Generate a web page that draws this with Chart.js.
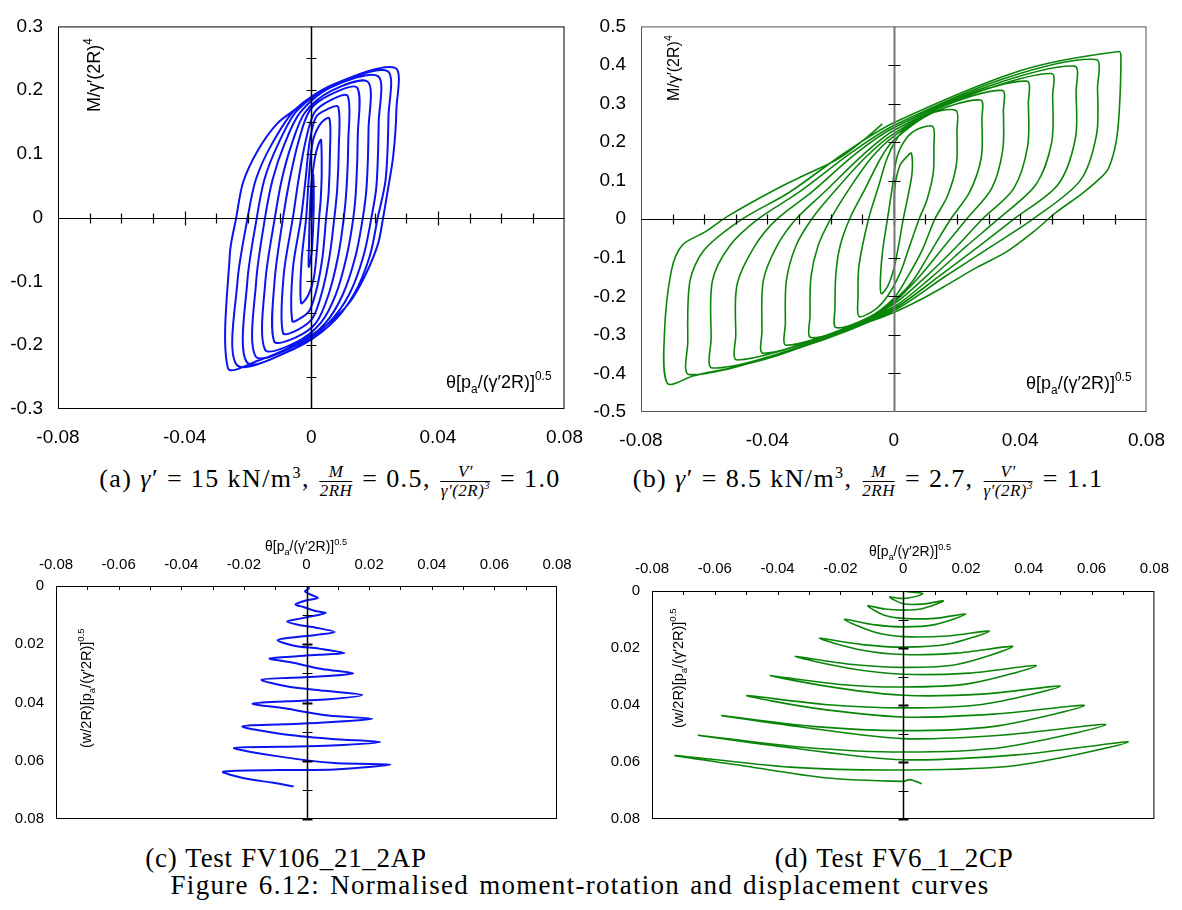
<!DOCTYPE html>
<html>
<head>
<meta charset="utf-8">
<script src="https://cdn.jsdelivr.net/npm/chart.js@4.4.1/dist/chart.umd.min.js"></script>
<style>
  body { margin: 0; background: #fff; }
  #page { position: relative; width: 1182px; height: 910px; overflow: hidden; background: #fff; }
  canvas { position: absolute; }
  .cap { position: absolute; transform: translateX(-50%); font-family: "Liberation Serif", serif; font-size: 27px; letter-spacing: 1.3px; word-spacing: 2px; white-space: nowrap; color: #000; line-height: 1; }
  .cap.sub { font-size: 26px; letter-spacing: 1.4px; word-spacing: 0; }
  .cap.test { letter-spacing: 0.7px; word-spacing: 1px; }
  .frac { display: inline-flex; flex-direction: column; align-items: center; vertical-align: middle; font-size: 17px; font-style: italic; line-height: 1.05; margin: 0 2px; letter-spacing: 0.5px; }
  .frac > span:first-child { align-self: stretch; text-align: center; border-bottom: 1px solid #000; padding: 0 2px; }
  sup { font-size: 0.62em; line-height: 0; }
</style>
</head>
<body>
<div id="page">
  <canvas id="chartA" width="600" height="450" style="left:0;top:0"></canvas>
  <canvas id="chartB" width="592" height="450" style="left:590px;top:0"></canvas>
  <canvas id="chartC" width="600" height="320" style="left:0;top:520px"></canvas>
  <canvas id="chartD" width="592" height="320" style="left:590px;top:520px"></canvas>

  <div class="cap sub" style="left:330px;top:463px">(a) <i>γ</i>′ = 15 kN/m<sup>3</sup>, <span class="frac"><span>M</span><span>2RH</span></span> = 0.5, <span class="frac"><span>V′</span><span>γ′(2R)<sup>3</sup></span></span> = 1.0</div>
  <div class="cap sub" style="left:868px;top:463px">(b) <i>γ</i>′ = 8.5 kN/m<sup>3</sup>, <span class="frac"><span>M</span><span>2RH</span></span> = 2.7, <span class="frac"><span>V′</span><span>γ′(2R)<sup>3</sup></span></span> = 1.1</div>
  <div class="cap test" style="left:286px;top:845px">(c) Test FV106_21_2AP</div>
  <div class="cap test" style="left:894px;top:845px">(d) Test FV6_1_2CP</div>
  <div class="cap" style="left:580px;top:872px">Figure 6.12: Normalised moment-rotation and displacement curves</div>
</div>

<script>
// (a) gamma' = 15 kN/m3 : normalised rotation vs normalised moment, one continuous path
const cycleA = [
  [0, 0], [0.0003, 0.03], [0.0007, 0.069],
  [0.0008, 0.03], [0.0007, 0], [0.0004, -0.035], [0, -0.06], [-0.0008, -0.077],
  [-0.0007, -0.04], [-0.0005, 0], [0, 0.05], [0.0012, 0.095], [0.0024, 0.117], [0.0031, 0.122],
  [0.0033, 0.07], [0.003, 0.03], [0.0025, 0], [0.0018, -0.05], [0.0008, -0.095], [-0.001, -0.122], [-0.0032, -0.134],
  [-0.0031, -0.07], [-0.0016, 0], [-0.0008, 0.06], [0.0005, 0.12], [0.003, 0.148], [0.0057, 0.156],
  [0.0059, 0.1], [0.0055, 0.04], [0.0047, 0], [0.0036, -0.06], [0.0018, -0.11], [-0.0005, -0.145], [-0.0035, -0.158], [-0.006, -0.162],
  [-0.0058, -0.08], [-0.0032, 0], [-0.0018, 0.06], [-0.0005, 0.12], [0.0015, 0.158], [0.005, 0.17], [0.0085, 0.174],
  [0.0087, 0.11], [0.0082, 0.045], [0.0073, 0], [0.0058, -0.06], [0.0035, -0.115], [0.0005, -0.157], [-0.004, -0.175], [-0.0089, -0.181],
  [-0.0087, -0.09], [-0.0058, 0], [-0.004, 0.06], [-0.0018, 0.12], [0.001, 0.165], [0.006, 0.184], [0.0115, 0.191],
  [0.0117, 0.12], [0.0112, 0.05], [0.0103, 0], [0.0085, -0.06], [0.0055, -0.12], [0.0015, -0.165], [-0.005, -0.188], [-0.0117, -0.194],
  [-0.0116, -0.1], [-0.0089, 0], [-0.0068, 0.06], [-0.004, 0.12], [-0.0005, 0.168], [0.006, 0.193], [0.0145, 0.204],
  [0.0147, 0.13], [0.0142, 0.05], [0.0133, 0], [0.0112, -0.06], [0.0078, -0.12], [0.003, -0.165], [-0.005, -0.196], [-0.0146, -0.207],
  [-0.0145, -0.1], [-0.0115, 0], [-0.0093, 0.06], [-0.0062, 0.115], [-0.002, 0.165], [0.006, 0.198], [0.0179, 0.213],
  [0.0181, 0.14], [0.0175, 0.05], [0.0163, 0], [0.014, -0.06], [0.01, -0.12], [0.0045, -0.165], [-0.004, -0.198], [-0.0175, -0.218],
  [-0.0174, -0.1], [-0.0146, 0], [-0.0122, 0.06], [-0.0085, 0.115], [-0.0035, 0.165], [0.006, 0.204], [0.0211, 0.222],
  [0.0213, 0.15], [0.0206, 0.05], [0.019, 0], [0.0165, -0.06], [0.012, -0.12], [0.0055, -0.165], [-0.005, -0.204], [-0.0203, -0.227],
  [-0.0202, -0.1], [-0.0172, 0], [-0.0148, 0.06], [-0.0105, 0.115], [-0.0045, 0.168], [0.0065, 0.207], [0.0241, 0.23],
  [0.0244, 0.16], [0.0235, 0.06], [0.021, 0], [0.0185, -0.06], [0.0135, -0.12], [0.006, -0.168], [-0.0055, -0.206], [-0.0235, -0.231],
  [-0.0233, -0.1], [-0.0201, 0], [-0.0175, 0.06], [-0.0125, 0.115], [-0.005, 0.17], [0.007, 0.209], [0.0265, 0.235],
  [0.0269, 0.17], [0.0259, 0.097], [0.0241, 0.041], [0.0227, 0], [0.0211, -0.041], [0.0169, -0.092], [0.0121, -0.133],
  [0.0061, -0.163], [0, -0.184], [-0.0071, -0.204], [-0.0167, -0.224], [-0.0263, -0.236],
  [-0.0257, -0.056], [-0.0237, 0], [-0.0215, 0.056], [-0.0167, 0.107], [-0.0107, 0.148], [-0.0047, 0.171]
];

// (b) gamma' = 8.5 kN/m3
const cycleB = [
  [0.0002, -0.015], [0.0003, 0.08], [0.002, 0.14], [0.0045, 0.165], [0.0056, 0.171],
  [0.0058, 0.12], [0.0045, 0.06], [0.003, 0], [0.0015, -0.07], [0, -0.13], [-0.002, -0.175], [-0.004, -0.193],
  [-0.0042, -0.15], [-0.0035, -0.08], [-0.002, 0], [-0.0005, 0.08], [0.001, 0.16], [0.004, 0.21], [0.008, 0.235], [0.0124, 0.24],
  [0.0127, 0.19], [0.0125, 0.12], [0.0105, 0.05], [0.008, 0], [0.005, -0.07], [0.002, -0.14], [-0.002, -0.2], [-0.006, -0.235], [-0.011, -0.252],
  [-0.0113, -0.2], [-0.011, -0.12], [-0.008, 0], [-0.005, 0.08], [-0.002, 0.16], [0.002, 0.22], [0.01, 0.27], [0.0197, 0.282],
  [0.02, 0.23], [0.0198, 0.14], [0.017, 0.06], [0.013, 0], [0.009, -0.08], [0.004, -0.155], [0, -0.205], [-0.008, -0.255], [-0.0183, -0.281],
  [-0.0186, -0.23], [-0.0183, -0.14], [-0.017, -0.07], [-0.014, 0], [-0.009, 0.08], [-0.004, 0.16], [0, 0.205], [0.012, 0.275], [0.0275, 0.309],
  [0.0279, 0.26], [0.0277, 0.16], [0.024, 0.07], [0.018, 0], [0.012, -0.08], [0.006, -0.16], [0, -0.21], [-0.01, -0.265], [-0.0262, -0.307],
  [-0.0265, -0.25], [-0.0262, -0.15], [-0.024, -0.07], [-0.02, 0], [-0.014, 0.08], [-0.007, 0.16], [0, 0.215], [0.015, 0.29], [0.0343, 0.334],
  [0.0347, 0.28], [0.0345, 0.18], [0.031, 0.08], [0.023, 0], [0.016, -0.07], [0.008, -0.15], [0, -0.215], [-0.012, -0.272], [-0.034, -0.327],
  [-0.0343, -0.27], [-0.034, -0.16], [-0.031, -0.07], [-0.026, 0], [-0.019, 0.07], [-0.009, 0.16], [0, 0.222], [0.02, 0.31], [0.0421, 0.358],
  [0.0426, 0.3], [0.0424, 0.19], [0.038, 0.08], [0.028, 0], [0.02, -0.07], [0.01, -0.15], [0, -0.22], [-0.015, -0.283], [-0.0413, -0.348],
  [-0.0417, -0.29], [-0.0413, -0.16], [-0.037, -0.07], [-0.031, 0], [-0.022, 0.07], [-0.01, 0.165], [0, 0.23], [0.025, 0.325], [0.0499, 0.378],
  [0.0503, 0.32], [0.05, 0.2], [0.045, 0.09], [0.033, 0], [0.023, -0.07], [0.012, -0.15], [0, -0.227], [-0.02, -0.298], [-0.0496, -0.365],
  [-0.05, -0.3], [-0.0496, -0.17], [-0.044, -0.07], [-0.037, 0], [-0.026, 0.07], [-0.012, 0.17], [0, 0.237], [0.03, 0.345], [0.0572, 0.397],
  [0.0577, 0.33], [0.0575, 0.21], [0.052, 0.09], [0.038, 0], [0.027, -0.07], [0.014, -0.15], [0, -0.232], [-0.025, -0.318], [-0.0574, -0.386],
  [-0.0578, -0.31], [-0.0574, -0.16], [-0.052, -0.07], [-0.043, 0], [-0.03, 0.07], [-0.013, 0.175], [0, 0.243], [0.035, 0.365], [0.064, 0.414],
  [0.0645, 0.34], [0.0642, 0.22], [0.059, 0.1], [0.044, 0], [0.031, -0.07], [0.016, -0.15], [0, -0.237], [-0.03, -0.334], [-0.0647, -0.403],
  [-0.0652, -0.32], [-0.0645, -0.16], [-0.06, -0.08], [-0.048, 0], [-0.033, 0.07], [-0.015, 0.175], [0, 0.25], [0.04, 0.385], [0.0713, 0.435],
  [0.0719, 0.418], [0.0714, 0.284], [0.0704, 0.201], [0.0681, 0.134], [0.0657, 0.109], [0.0597, 0.067], [0.0513, 0.017], [0.0442, -0.033],
  [0.0358, -0.084], [0.0263, -0.125], [0.0167, -0.171], [0.0084, -0.209], [0, -0.242], [-0.0084, -0.268], [-0.0179, -0.293],
  [-0.0275, -0.326], [-0.0394, -0.36], [-0.0513, -0.385], [-0.0633, -0.406], [-0.0716, -0.426],
  [-0.0726, -0.301], [-0.0704, -0.134], [-0.0669, -0.067], [-0.0597, -0.033], [-0.0525, 0.008], [-0.037, 0.079],
  [-0.0275, 0.117], [-0.0179, 0.155], [-0.0096, 0.205], [-0.0036, 0.247]
];

// (c) Test FV106_21_2AP : rotation vs normalised settlement
const settleC = [
  [0, 0], [0.0008, 0.0008], [-0.0005, 0.0018], [0.001, 0.0028], [0.0036, 0.0041],
  [0.0005, 0.0048], [-0.0035, 0.0063],
  [-0.001, 0.0072], [0.0025, 0.0085], [0.0061, 0.0093],
  [0.002, 0.0103], [-0.002, 0.0112], [-0.0062, 0.0122],
  [-0.002, 0.0135], [0.003, 0.0143], [0.009, 0.0158],
  [0.003, 0.0168], [-0.003, 0.0175], [-0.0092, 0.0186],
  [-0.004, 0.0205], [0.004, 0.0215], [0.0121, 0.023],
  [0.004, 0.0236], [-0.004, 0.0242], [-0.0118, 0.0249],
  [-0.005, 0.0262], [0.005, 0.0285], [0.0149, 0.03],
  [0.005, 0.031], [-0.005, 0.0315], [-0.0144, 0.0322],
  [-0.006, 0.0345], [0.006, 0.036], [0.0178, 0.0374],
  [0.006, 0.039], [-0.006, 0.0396], [-0.0172, 0.0404],
  [-0.007, 0.042], [0.007, 0.0445], [0.021, 0.0456],
  [0.007, 0.0468], [-0.007, 0.0475], [-0.0205, 0.0482],
  [-0.008, 0.0508], [0.008, 0.0525], [0.0236, 0.0536],
  [0.008, 0.0548], [-0.008, 0.0552], [-0.0232, 0.0556],
  [-0.009, 0.0585], [0.009, 0.0608], [0.0268, 0.0613],
  [0.009, 0.063], [-0.009, 0.0632], [-0.0266, 0.0638],
  [-0.02, 0.066], [-0.011, 0.0675], [-0.0041, 0.0688]
];

// (d) Test FV6_1_2CP
const settleD = [
  [0, 0], [0.003, 0.0004], [0.0062, 0.0009],
  [0.002, 0.0024], [-0.001, 0.0026], [-0.0043, 0.0021],
  [0, 0.0045], [0.006, 0.0046], [0.0128, 0.0035],
  [0.006, 0.0062], [0, 0.0067], [-0.006, 0.0063], [-0.0113, 0.0052],
  [-0.006, 0.0085], [0, 0.0096], [0.01, 0.0096], [0.0199, 0.0081],
  [0.01, 0.0118], [0, 0.0126], [-0.009, 0.0119], [-0.0187, 0.01],
  [-0.009, 0.0145], [0, 0.016], [0.014, 0.0158], [0.0274, 0.0141],
  [0.014, 0.0187], [0, 0.0197], [-0.013, 0.0188], [-0.0267, 0.0166],
  [-0.013, 0.0208], [0, 0.0223], [0.017, 0.0218], [0.0349, 0.0195],
  [0.017, 0.0258], [0, 0.0268], [-0.017, 0.0257], [-0.0344, 0.023],
  [-0.017, 0.0272], [0, 0.0292], [0.021, 0.0288], [0.0424, 0.0262],
  [0.021, 0.0325], [0, 0.0337], [-0.021, 0.0327], [-0.0424, 0.0297],
  [-0.021, 0.034], [0, 0.0366], [0.025, 0.0362], [0.05, 0.0334],
  [0.025, 0.0398], [0, 0.041], [-0.025, 0.0398], [-0.0498, 0.0367],
  [-0.029, 0.041], [0, 0.0442], [0.029, 0.0432], [0.0577, 0.0402],
  [0.029, 0.0475], [0, 0.049], [-0.029, 0.0475], [-0.0578, 0.0437],
  [-0.032, 0.0478], [0, 0.0518], [0.032, 0.0505], [0.0645, 0.0469],
  [0.032, 0.0548], [0, 0.0565], [-0.032, 0.0548], [-0.0652, 0.0506],
  [-0.036, 0.055], [0, 0.0592], [0.036, 0.0575], [0.0717, 0.053],
  [0.036, 0.0612], [0, 0.0628], [-0.036, 0.0618], [-0.0726, 0.0577],
  [-0.05, 0.0615], [-0.025, 0.0655], [0, 0.0668], [0.002, 0.0662], [0.004, 0.0668], [0.0059, 0.0676]
];

const labelFont = 'Liberation Sans';

// rich text pieces for the axis titles
const momentTitle = [{ t: 'M/γ′(2R)' }, { t: '4', sup: true }];
const rotationTitle = [{ t: 'θ[p' }, { t: 'a', sub: true }, { t: '/(γ′2R)]' }, { t: '0.5', sup: true }];
const settleTitle = [{ t: '(w/2R)[p' }, { t: 'a', sub: true }, { t: '/(γ′2R)]' }, { t: '0.5', sup: true }];

function steps(from, to, step) {
  const out = [];
  for (let v = from; v <= to + step / 2; v += step) {
    const r = Math.round(v / step) * step;
    if (Math.abs(r) > 1e-9) out.push(r);
  }
  return out;
}

function drawRich(ctx, parts, x, y, size, align) {
  let total = 0;
  const sized = parts.map(p => {
    const s = (p.sup || p.sub) ? size * 0.66 : size;
    ctx.font = `${s}px "${labelFont}"`;
    const w = ctx.measureText(p.t).width;
    total += w;
    return { p, s, w };
  });
  let cx = align === 'center' ? x - total / 2 : x;
  sized.forEach(({ p, s, w }) => {
    ctx.font = `${s}px "${labelFont}"`;
    const dy = p.sup ? -size * 0.45 : p.sub ? size * 0.25 : 0;
    ctx.fillText(p.t, cx, y + dy);
    cx += w;
  });
}

const decorPlugin = {
  id: 'decor',
  afterDatasetsDraw(chart, args, o) {
    const { ctx, chartArea: a, scales: { x, y } } = chart;
    const seg = (x1, y1, x2, y2) => { ctx.beginPath(); ctx.moveTo(x1, y1); ctx.lineTo(x2, y2); ctx.stroke(); };
    ctx.save();

    // frame around the plot
    ctx.strokeStyle = o.frameColor;
    ctx.lineWidth = 1;
    ctx.strokeRect(a.left + 0.5, a.top + 0.5, a.width - 1, a.height - 1);

    // ticks on the top border (c, d)
    if (o.topTicks) {
      ctx.strokeStyle = '#000';
      o.topTicks.forEach(v => {
        const px = Math.round(x.getPixelForValue(v)) + 0.5;
        seg(px, a.top, px, a.top + 4);
      });
    }

    // horizontal zero axis with ticks (a, b)
    if (o.hTicks) {
      const y0 = Math.round(y.getPixelForValue(0)) + 0.5;
      ctx.strokeStyle = '#000';
      ctx.lineWidth = 1.2;
      seg(a.left, y0, a.right, y0);
      o.hTicks.forEach(v => {
        const px = Math.round(x.getPixelForValue(v)) + 0.5;
        const len = o.hMajor && o.hMajor.some(m => Math.abs(m - v) < 1e-9) ? 7 : 5;
        seg(px, y0 - len, px, y0 + len);
      });
    }

    // vertical zero axis with ticks
    const x0 = Math.round(x.getPixelForValue(0)) + 0.5;
    ctx.strokeStyle = o.vColor;
    ctx.lineWidth = o.vWidth;
    seg(x0, a.top, x0, a.bottom);
    ctx.strokeStyle = '#000';
    o.vTicks.forEach(v => {
      const py = Math.round(y.getPixelForValue(v)) + 0.5;
      const major = o.vMajor && o.vMajor.some(m => Math.abs(m - v) < 1e-9);
      ctx.lineWidth = major ? 2 : 1;
      seg(x0 - o.vLen, py, x0 + o.vLen, py);
    });

    // axis titles
    ctx.fillStyle = '#000';
    ctx.textBaseline = 'alphabetic';
    o.texts.forEach(t => {
      ctx.save();
      ctx.translate(t.x, t.y);
      if (t.rotate) ctx.rotate(-Math.PI / 2);
      drawRich(ctx, t.parts, 0, 0, t.size, t.align);
      ctx.restore();
    });
    ctx.restore();
  }
};

const fmt = digits => v => (Math.abs(v) < 1e-9 ? '0' : v.toFixed(digits));

function axis(opts) {
  return {
    type: 'linear',
    position: opts.position,
    reverse: !!opts.reverse,
    min: opts.min,
    max: opts.max,
    grid: { display: false, drawTicks: false },
    border: { display: false },
    ticks: {
      stepSize: opts.step,
      padding: opts.padding,
      color: '#000',
      autoSkip: false,
      maxRotation: 0,
      font: { family: labelFont, size: opts.fontSize },
      callback: fmt(opts.digits)
    },
    afterFit: s => {
      if (opts.width) s.width = opts.width;
      if (opts.height) s.height = opts.height;
    }
  };
}

function buildChart(id, points, color, lineWidth, scales, padding, decor) {
  return new Chart(document.getElementById(id), {
    type: 'scatter',
    data: {
      datasets: [{
        data: points.map(([px, py]) => ({ x: px, y: py })),
        showLine: true,
        borderColor: color,
        borderWidth: lineWidth,
        pointRadius: 0,
        tension: 0.3,
        fill: false
      }]
    },
    options: {
      responsive: false,
      animation: false,
      events: [],
      layout: { padding },
      plugins: { legend: { display: false }, tooltip: { enabled: false }, decor },
      scales
    },
    plugins: [decorPlugin]
  });
}

// (a)
buildChart('chartA', cycleA, '#0a14f0', 2,
  {
    x: axis({ position: 'bottom', min: -0.08, max: 0.08, step: 0.04, padding: 17, fontSize: 19, digits: 2, height: 41 }),
    y: axis({ position: 'left', min: -0.3, max: 0.3, step: 0.1, padding: 15, fontSize: 19, digits: 1, width: 58 })
  },
  { left: 0, right: 31, top: 17, bottom: 0 },
  {
    frameColor: '#000', vColor: '#000', vWidth: 1.5, vLen: 5,
    vTicks: steps(-0.25, 0.25, 0.05),
    hTicks: steps(-0.07, 0.07, 0.01), hMajor: [-0.04, 0.04],
    texts: [
      { x: 100, y: 112, rotate: true, parts: momentTitle, size: 18 },
      { x: 446, y: 388, parts: rotationTitle, size: 18 }
    ]
  });

// (b)
buildChart('chartB', cycleB, '#0a850a', 1.6,
  {
    x: axis({ position: 'bottom', min: -0.08, max: 0.08, step: 0.04, padding: 17, fontSize: 19, digits: 2, height: 38 }),
    y: axis({ position: 'left', min: -0.5, max: 0.5, step: 0.1, padding: 15, fontSize: 19, digits: 1, width: 51 })
  },
  { left: 0, right: 29, top: 14, bottom: 0 },
  {
    frameColor: '#555', vColor: '#777', vWidth: 2, vLen: 6,
    vTicks: steps(-0.4, 0.4, 0.1),
    hTicks: steps(-0.07, 0.07, 0.01),
    texts: [
      { x: 89, y: 101, rotate: true, parts: momentTitle, size: 16 },
      { x: 436, y: 389, parts: rotationTitle, size: 18 }
    ]
  });

// (c)
buildChart('chartC', settleC, '#0a14f0', 2,
  {
    x: axis({ position: 'top', min: -0.08, max: 0.08, step: 0.02, padding: 12, fontSize: 15, digits: 2, height: 66 }),
    y: axis({ position: 'left', reverse: true, min: 0, max: 0.08, step: 0.02, padding: 12, fontSize: 15, digits: 2, width: 56 })
  },
  { left: 0, right: 43, top: 0, bottom: 15 },
  {
    frameColor: '#000', vColor: '#000', vWidth: 1.5, vLen: 5,
    vTicks: steps(0.01, 0.08, 0.01), vMajor: [0.02, 0.04, 0.06, 0.08],
    topTicks: steps(-0.07, 0.07, 0.01),
    texts: [
      { x: 306, y: 31, parts: rotationTitle, size: 14, align: 'center' },
      { x: 91, y: 228, rotate: true, parts: settleTitle, size: 14.5 }
    ]
  });

// (d)
buildChart('chartD', settleD, '#0a850a', 1.6,
  {
    x: axis({ position: 'top', min: -0.08, max: 0.08, step: 0.02, padding: 13, fontSize: 15, digits: 2, height: 71 }),
    y: axis({ position: 'left', reverse: true, min: 0, max: 0.08, step: 0.02, padding: 12, fontSize: 15, digits: 2, width: 62 })
  },
  { left: 0, right: 22, top: 0, bottom: 20 },
  {
    frameColor: '#000', vColor: '#000', vWidth: 1.5, vLen: 5,
    vTicks: steps(0.01, 0.08, 0.01), vMajor: [0.02, 0.04, 0.06, 0.08],
    topTicks: steps(-0.07, 0.07, 0.01),
    texts: [
      { x: 320, y: 36, parts: rotationTitle, size: 14, align: 'center' },
      { x: 93, y: 208, rotate: true, parts: settleTitle, size: 14.5 }
    ]
  });
</script>
</body>
</html>
